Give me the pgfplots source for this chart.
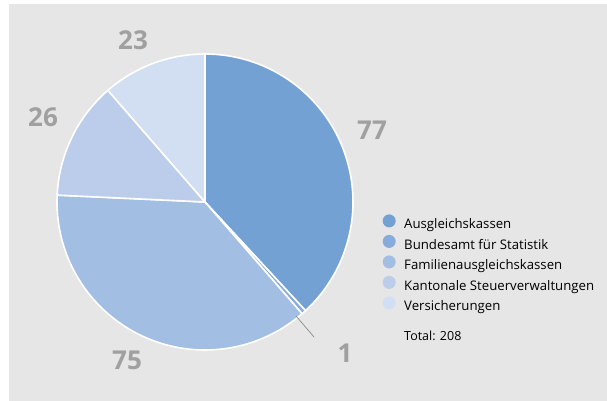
\documentclass[border=0pt]{standalone}
\usepackage{fontspec}
\setmainfont{Open Sans}
\usepackage{pgfplots}
\usepackage{pgfplotstable}
\pgfplotsset{compat=1.18}
\definecolor{bg}{HTML}{E6E6E6}
\definecolor{cA}{HTML}{73A1D4}
\definecolor{cB}{HTML}{87ABDB}
\definecolor{cC}{HTML}{A3BEE3}
\definecolor{cD}{HTML}{BCCDEB}
\definecolor{cE}{HTML}{D2DFF2}
\definecolor{lab}{HTML}{A0A0A0}
\pgfplotstableread{
label value
Ausgleichskassen 77
Bundesamt 1
Familien 75
Kantonale 26
Versicherungen 23
}\piedata
\begin{document}
\begin{tikzpicture}
\pgfplotstablegetelem{0}{value}\of\piedata \let\va\pgfplotsretval
\pgfplotstablegetelem{1}{value}\of\piedata \let\vb\pgfplotsretval
\pgfplotstablegetelem{2}{value}\of\piedata \let\vc\pgfplotsretval
\pgfplotstablegetelem{3}{value}\of\piedata \let\vd\pgfplotsretval
\pgfplotstablegetelem{4}{value}\of\piedata \let\ve\pgfplotsretval
\pgfmathsetmacro\tot{\va+\vb+\vc+\vd+\ve}
\pgfmathsetmacro\aA{90}
\pgfmathsetmacro\aB{\aA-360*(\va/\tot)}
\pgfmathsetmacro\aC{\aB-360*(\vb/\tot)}
\pgfmathsetmacro\aD{\aC-360*(\vc/\tot)}
\pgfmathsetmacro\aE{\aD-360*(\vd/\tot)}
\pgfmathsetmacro\aF{\aE-360*(\ve/\tot)}
\begin{axis}[
  width=607pt, height=401pt, scale only axis,
  xmin=0, xmax=607, ymin=0, ymax=401,
  hide axis, clip=false,
  legend cell align=left,
  legend image code/.code={\fill[#1,draw=none] (6.5pt,4.5pt) circle (6.5pt);},
  legend style={draw=none, fill=none, at={(axis cs:382.5,186.8)}, anchor=north west,
    font=\fontsize{13.2}{15}\selectfont, row sep=3pt, inner sep=0pt,
    nodes={inner sep=0pt, text height=10pt, text depth=3pt},
    /tikz/every odd column/.append style={column sep=8.5pt}},
]
\fill[white] (axis cs:0,0) rectangle (axis cs:607,401);
\fill[bg] (axis cs:9,0) rectangle (axis cs:607,397);
\addplot[fill=cA, draw=white, line width=1.6pt, domain=\aB:\aA, samples=80] ({205+148*cos(x)},{199+148*sin(x)}) -- (axis cs:205,199) -- cycle;
\addlegendentry{Ausgleichskassen}
\addplot[fill=cB, draw=white, line width=1.6pt, domain=\aC:\aB, samples=5] ({205+148*cos(x)},{199+148*sin(x)}) -- (axis cs:205,199) -- cycle;
\addlegendentry{Bundesamt für Statistik}
\addplot[fill=cC, draw=white, line width=1.6pt, domain=\aD:\aC, samples=80] ({205+148*cos(x)},{199+148*sin(x)}) -- (axis cs:205,199) -- cycle;
\addlegendentry{Familienausgleichskassen}
\addplot[fill=cD, draw=white, line width=1.6pt, domain=\aE:\aD, samples=40] ({205+148*cos(x)},{199+148*sin(x)}) -- (axis cs:205,199) -- cycle;
\addlegendentry{Kantonale Steuerverwaltungen}
\addplot[fill=cE, draw=white, line width=1.6pt, domain=\aF:\aE, samples=40] ({205+148*cos(x)},{199+148*sin(x)}) -- (axis cs:205,199) -- cycle;
\addlegendentry{Versicherungen}
\draw[lab!80!black, line width=0.6pt] (axis cs:296,85) -- (axis cs:314,64);
\begin{scope}[every node/.style={text=lab, font=\fontsize{26}{26}\selectfont\bfseries}]
\node at (axis cs:372,271) {77};
\node at (axis cs:345,48) {1};
\node at (axis cs:127,41) {75};
\node at (axis cs:43,284) {26};
\node at (axis cs:133,361) {23};
\end{scope}
\node[anchor=west, font=\fontsize{12.5}{14}\selectfont, inner sep=0pt] at (axis cs:404,65) {Total: 208};
\end{axis}
\end{tikzpicture}
\end{document}
